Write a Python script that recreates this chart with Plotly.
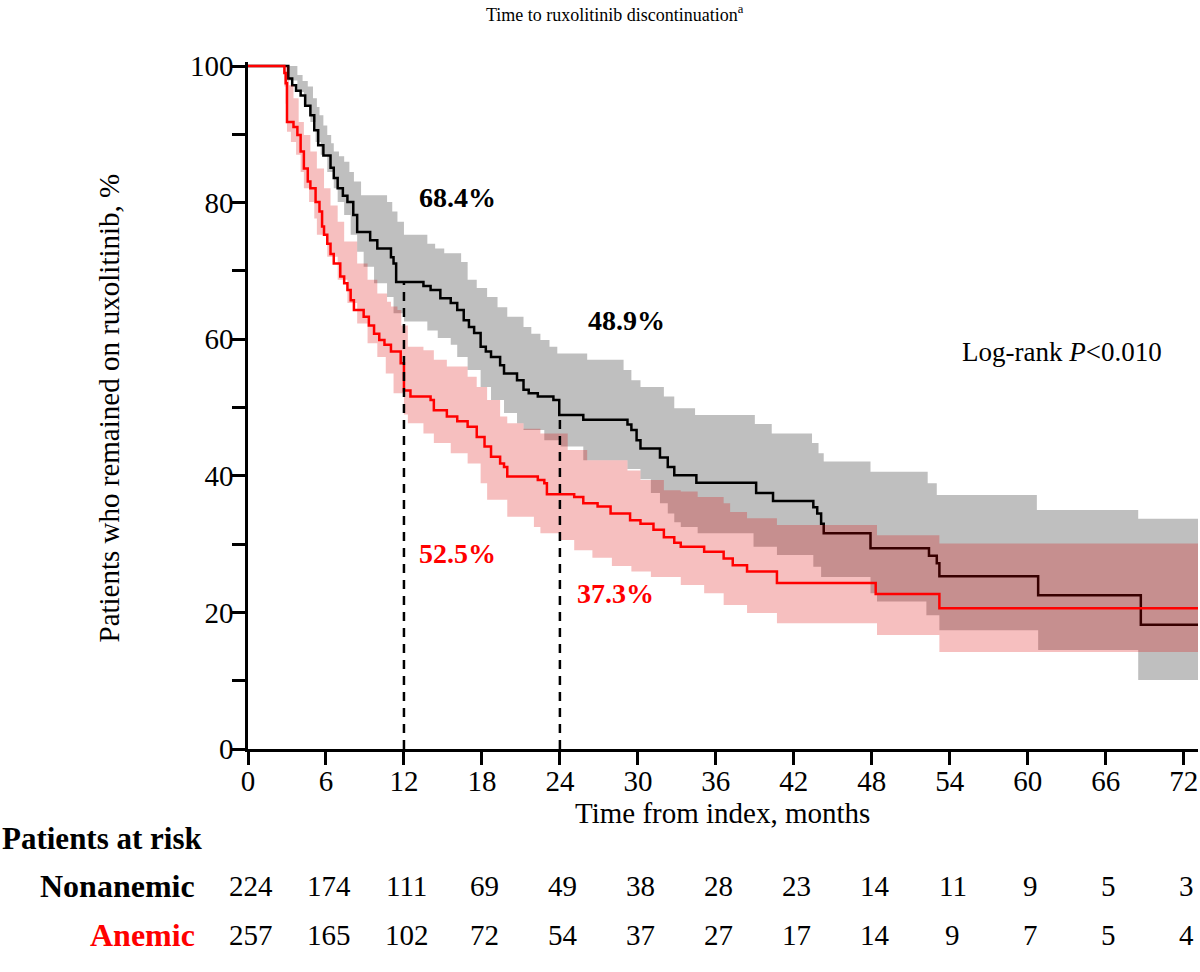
"""
Kaplan-Meier plot of time to ruxolitinib discontinuation for anemic and
nonanemic patients, with confidence bands, milestone rates and the table
of patients at risk underneath.
"""

import plotly.graph_objects as go


# step curves: value holds from each time until the next one (months, %)
NONANEMIC_T = [
    0, 3.1, 3.4, 3.7, 4.05, 4.4, 4.8, 5.1, 5.4, 5.8,
    6.35, 6.6, 6.9, 7.3, 7.65, 8.1, 8.4, 9.4, 9.95, 11.0,
    11.2, 11.4, 13.5, 14.05, 14.8, 15.6, 16.1, 16.6, 17.0, 17.4,
    17.9, 18.3, 18.7, 19.4, 19.7, 20.7, 21.2, 21.6, 22.3, 23.5,
    23.95, 25.8, 29.2, 29.5, 29.9, 30.2, 31.7, 32.3, 32.8, 34.5,
    39.1, 40.4, 43.5, 43.8, 44.1, 44.3, 47.9, 52.4, 53.0, 53.2,
    60.8, 68.7, 73.1]
NONANEMIC_S = [
    100, 98.2, 97.2, 96.4, 95.7, 94.2, 92.8, 90.6, 88.4, 86.9,
    85.1, 83.6, 82.1, 81.0, 80.1, 78.2, 75.7, 74.5, 73.3, 72.0,
    71.1, 68.4, 67.8, 67.2, 66.0, 65.3, 64.3, 62.8, 61.8, 60.9,
    58.9, 58.2, 57.4, 56.2, 55.0, 54.0, 52.6, 52.1, 51.6, 51.1,
    48.9, 48.2, 47.5, 46.7, 45.2, 44.0, 42.7, 41.3, 40.1, 39.0,
    37.5, 36.3, 35.4, 34.5, 33.0, 31.6, 29.4, 28.3, 27.2, 25.3,
    22.5, 18.2, 18.2]

NONANEMIC_HI_T = [
    0, 3.1, 3.8, 4.2, 4.6, 5.0, 5.3, 5.5, 5.8, 6.1,
    6.4, 6.6, 7.0, 7.4, 7.8, 8.15, 8.7, 10.7, 11.1, 11.5,
    12.0, 13.8, 14.4, 15.1, 16.4, 16.9, 17.6, 18.4, 19.2, 19.95,
    21.2, 21.8, 22.5, 23.2, 23.8, 26.1, 28.9, 29.5, 30.2, 32.0,
    32.8, 34.4, 39.0, 40.3, 43.4, 43.9, 44.3, 47.9, 52.3, 53.0,
    60.7, 68.5, 73.1]
NONANEMIC_HI = [
    100, 100, 98.7, 97.8, 97.0, 95.3, 94.0, 92.8, 91.3, 89.9,
    88.7, 87.5, 86.8, 86.0, 84.5, 83.1, 81.1, 80.1, 78.7, 77.2,
    75.3, 74.0, 73.3, 72.6, 71.3, 68.7, 67.5, 66.2, 64.7, 63.3,
    61.8, 60.8, 59.9, 58.9, 57.9, 57.0, 55.5, 54.0, 53.0, 51.6,
    49.9, 48.9, 47.6, 46.2, 44.8, 43.3, 42.1, 40.6, 38.9, 37.2,
    35.0, 33.7, 33.7]

NONANEMIC_LO_T = [
    0, 3.1, 3.8, 4.3, 4.8, 5.2, 5.6, 6.1, 6.6, 6.9,
    7.4, 7.9, 8.4, 8.9, 9.7, 10.7, 11.2, 12.0, 13.8, 14.6,
    15.6, 16.1, 16.9, 17.9, 18.7, 19.7, 20.7, 21.2, 22.8, 24.05,
    25.8, 29.2, 30.2, 31.0, 31.7, 32.3, 32.8, 33.3, 34.6, 38.9,
    40.7, 43.5, 44.1, 47.9, 48.4, 52.2, 53.2, 60.8, 68.5, 73.1]
NONANEMIC_LO = [
    100, 97.9, 96.2, 94.3, 91.8, 88.9, 87.0, 84.5, 82.1, 80.1,
    78.2, 75.3, 72.8, 70.6, 68.2, 66.2, 63.8, 62.6, 61.3, 60.2,
    59.2, 57.4, 55.5, 53.0, 51.1, 49.2, 47.7, 46.7, 45.2, 44.3,
    42.3, 41.0, 39.5, 37.5, 36.0, 34.5, 33.2, 32.5, 31.6, 29.6,
    28.4, 26.7, 25.2, 22.8, 21.6, 19.6, 17.4, 14.5, 10.1, 10.1]

ANEMIC_T = [
    0, 2.8, 2.9, 3.0, 3.5, 3.8, 4.05, 4.3, 4.6, 4.8,
    5.2, 5.5, 5.7, 5.85, 6.1, 6.35, 6.6, 7.1, 7.4, 7.65,
    7.9, 8.15, 8.9, 9.3, 9.7, 10.1, 10.5, 11.0, 11.75, 12.0,
    12.5, 14.05, 14.3, 15.3, 16.1, 16.9, 17.6, 18.2, 18.7, 19.4,
    19.7, 19.95, 22.3, 22.8, 23.0, 25.1, 25.8, 26.9, 27.9, 29.4,
    30.2, 31.2, 32.0, 32.8, 33.3, 35.1, 36.6, 37.3, 38.4, 40.7,
    48.3, 53.2, 73.1]
ANEMIC_S = [
    100, 99.0, 97.5, 91.8, 91.1, 89.9, 87.5, 85.0, 83.1, 82.1,
    80.1, 78.7, 76.5, 75.3, 74.0, 72.5, 71.1, 69.2, 68.2, 67.2,
    65.7, 64.3, 63.3, 62.0, 60.8, 59.9, 59.2, 58.2, 56.5, 52.5,
    51.6, 51.1, 49.6, 48.7, 48.0, 47.2, 45.7, 44.3, 42.8, 41.8,
    41.3, 39.9, 39.4, 38.9, 37.3, 36.9, 36.0, 35.5, 34.5, 33.5,
    33.0, 32.1, 31.0, 30.2, 29.6, 28.9, 27.9, 26.9, 26.0, 24.3,
    22.7, 20.6, 20.6]

ANEMIC_HI_T = [
    0, 2.8, 3.15, 3.5, 3.9, 4.3, 4.8, 5.3, 5.85, 6.35,
    6.9, 7.4, 8.4, 9.2, 9.95, 10.7, 11.0, 11.5, 11.8, 12.3,
    13.5, 14.3, 15.3, 16.9, 17.6, 18.4, 19.4, 19.95, 21.2, 22.5,
    24.6, 26.1, 29.2, 30.2, 32.0, 33.3, 34.6, 36.6, 37.1, 38.4,
    40.7, 48.4, 53.2, 73.1]
ANEMIC_HI = [
    100, 100, 97.2, 95.3, 91.8, 89.9, 87.5, 85.0, 82.1, 79.6,
    77.2, 74.3, 71.1, 68.7, 66.7, 65.5, 64.8, 64.3, 62.0, 58.9,
    58.4, 57.0, 56.0, 54.5, 53.0, 51.1, 48.7, 47.7, 46.9, 46.2,
    43.8, 42.3, 40.8, 39.4, 37.9, 37.7, 36.9, 36.0, 34.7, 33.8,
    32.8, 31.3, 30.1, 30.1]

ANEMIC_LO_T = [
    0, 2.8, 2.9, 3.0, 3.3, 3.7, 4.05, 4.3, 4.7, 5.1,
    5.3, 6.1, 6.9, 7.65, 8.4, 9.2, 9.95, 10.6, 11.2, 12.0,
    12.3, 13.5, 14.3, 15.6, 16.9, 17.9, 18.4, 19.95, 22.0, 22.5,
    24.05, 25.1, 26.5, 28.0, 29.5, 31.0, 33.3, 35.1, 36.6, 38.4,
    40.7, 48.4, 53.2, 73.1]
ANEMIC_LO = [
    100, 97.0, 94.5, 90.4, 88.9, 87.0, 84.5, 82.1, 80.1, 77.7,
    75.3, 72.1, 68.7, 65.3, 62.3, 59.4, 57.4, 55.0, 52.1, 49.0,
    47.7, 46.2, 44.8, 43.3, 41.8, 38.9, 36.5, 34.0, 32.5, 31.6,
    30.6, 29.1, 28.0, 26.8, 26.0, 25.2, 24.0, 22.8, 21.1, 19.9,
    18.4, 16.7, 14.2, 14.2]

# milestone rates at 12 and 24 months
MILESTONES = [12, 24]
NONANEMIC_RATE = [68.4, 48.9]
ANEMIC_RATE = [52.5, 37.3]

# patients at risk table
RISK_MONTHS = [0, 6, 12, 18, 24, 30, 36, 42, 48, 54, 60, 66, 72]
NONANEMIC_RISK = [224, 174, 111, 69, 49, 38, 28, 23, 14, 11, 9, 5, 3]
ANEMIC_RISK = [257, 165, 102, 72, 54, 37, 27, 17, 14, 9, 7, 5, 4]

Y_TICKS = list(range(0, 101, 10))
Y_LABELS = ['0', '', '20', '', '40', '', '60', '', '80', '', '100']
X_TICKS = list(range(0, 73, 6))

SERIF = 'Liberation Serif'
RED = '#ff0000'
GREY_BAND = '#bfbfbf'
PINK_BAND = 'rgba(219,0,0,0.25)'


def add_band(fig, lo_t, lo, hi_t, hi, color):
    """
    Adds a stepped confidence band between a lower and an upper step curve.
    """
    fig.add_trace(go.Scatter(x=lo_t, y=lo, mode='lines', line_shape='hv',
                             line=dict(width=0), hoverinfo='skip'))
    fig.add_trace(go.Scatter(x=hi_t, y=hi, mode='lines', line_shape='hv',
                             line=dict(width=0), fill='tonexty',
                             fillcolor=color, hoverinfo='skip'))


def add_curve(fig, t, s, color):
    """
    Adds a Kaplan-Meier step line.
    """
    fig.add_trace(go.Scatter(x=t, y=s, mode='lines', line_shape='hv',
                             line=dict(color=color, width=2.5)))


def add_texts(fig):
    """
    Adds the title, axis titles, labels inside the plot and the risk table.
    """
    notes = []
    notes.append(dict(text='Time to ruxolitinib discontinuation<sup>a</sup>',
                      xref='paper', yref='paper', x=0.386, y=1.071,
                      font=dict(size=18)))
    notes.append(dict(text='Time from index, months', xref='paper',
                      yref='paper', x=0.499, y=-0.093, font=dict(size=29)))
    notes.append(dict(text='Patients who remained on ruxolitinib, %',
                      xref='paper', yref='paper', x=-0.165, y=0.496,
                      textangle=-90, font=dict(size=29)))
    notes.append(dict(text='Log-rank <i>P</i><0.010', x=62.6, y=58.1,
                      font=dict(size=27)))
    rate_pos = [(16.1, 80.8, 29.1, 62.7), (16.15, 28.6, 28.3, 22.8)]
    for rates, color, pos in zip([NONANEMIC_RATE, ANEMIC_RATE],
                                 ['black', RED], rate_pos):
        for i, rate in enumerate(rates):
            notes.append(dict(text='<b>%.1f%%</b>' % rate,
                              x=pos[2 * i], y=pos[2 * i + 1],
                              font=dict(size=28, color=color)))

    notes.append(dict(text='<b>Patients at risk</b>', xref='paper',
                      yref='paper', x=-0.2611, y=-0.1296, xanchor='left',
                      font=dict(size=31)))
    rows = [('Nonanemic', 'black', NONANEMIC_RISK, -0.1994),
            ('Anemic', RED, ANEMIC_RISK, -0.2707)]
    for name, color, counts, ypos in rows:
        notes.append(dict(text='<b>%s</b>' % name, xref='paper',
                          yref='paper', x=-0.0537, y=ypos, xanchor='right',
                          font=dict(size=32, color=color)))
        for month, n in zip(RISK_MONTHS, counts):
            notes.append(dict(text=str(n), x=month, xref='x', yref='paper',
                              y=ypos, xshift=3, font=dict(size=29)))

    for note in notes:
        note.setdefault('showarrow', False)
        note.setdefault('yanchor', 'middle')
        fig.add_annotation(**note)


def main():
    fig = go.Figure()
    add_band(fig, NONANEMIC_LO_T, NONANEMIC_LO, NONANEMIC_HI_T,
             NONANEMIC_HI, GREY_BAND)
    add_curve(fig, NONANEMIC_T, NONANEMIC_S, 'black')
    add_band(fig, ANEMIC_LO_T, ANEMIC_LO, ANEMIC_HI_T, ANEMIC_HI, PINK_BAND)
    add_curve(fig, ANEMIC_T, ANEMIC_S, RED)

    # dashed drop lines at the milestones
    for month, rate in zip(MILESTONES, NONANEMIC_RATE):
        fig.add_trace(go.Scatter(x=[month, month], y=[0, rate], mode='lines',
                                 line=dict(color='black', width=2.5,
                                           dash='9px,7px')))

    add_texts(fig)

    fig.update_layout(
        width=1200, height=972, showlegend=False,
        margin=dict(l=248, r=2, t=62, b=223),
        plot_bgcolor='white', paper_bgcolor='white',
        font=dict(family=SERIF, size=29, color='black'),
    )
    fig.update_xaxes(range=[0, 73.1], tickvals=X_TICKS, ticks='outside',
                     ticklen=13, tickwidth=2.5, tickcolor='black',
                     showline=True, linewidth=2.5, linecolor='black',
                     showgrid=False, zeroline=False, ticklabelstandoff=-9,
                     tickfont=dict(size=29))
    fig.update_yaxes(range=[0, 100.6], tickvals=Y_TICKS, ticktext=Y_LABELS,
                     ticks='outside', ticklen=13, tickwidth=2.5,
                     tickcolor='black', showline=True, linewidth=2.5,
                     linecolor='black', showgrid=False, zeroline=False,
                     ticklabelstandoff=-7, tickfont=dict(size=29))
    # drop the default 8px body margin so the figure fills the window
    fig.write_html('out.html', config={'displayModeBar': False},
                   post_script="document.body.style.margin='0px';")


if __name__ == '__main__':
    main()
